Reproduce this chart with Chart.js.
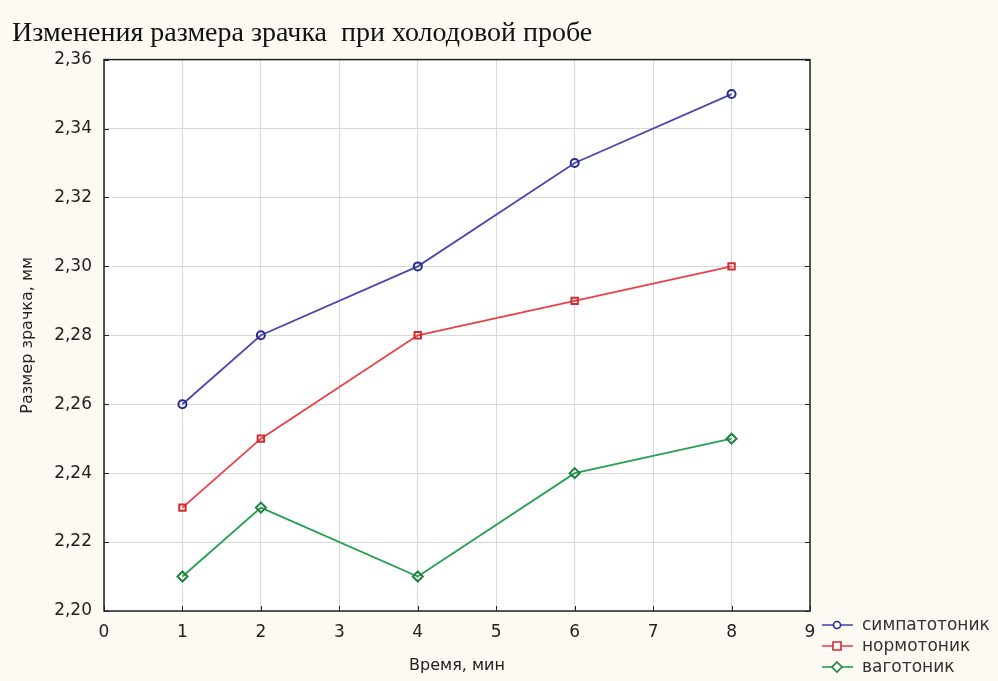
<!DOCTYPE html>
<html>
<head>
<meta charset="utf-8">
<script src="https://cdn.jsdelivr.net/npm/chart.js@4/dist/chart.umd.min.js"></script>
<style>
    html, body { margin: 0; padding: 0; background: #fcfaf3; }
    #box { width: 998px; height: 681px; }
</style>
</head>
<body>
<div id="box"><canvas id="myChart" width="998" height="681"></canvas></div>
<script>
// время, мин
const times = [1, 2, 4, 6, 8];
// размер зрачка, мм
const simpato = [2.26, 2.28, 2.30, 2.33, 2.35];
const normo = [2.23, 2.25, 2.28, 2.29, 2.30];
const vago = [2.21, 2.23, 2.21, 2.24, 2.25];

const xTicks = [0, 1, 2, 3, 4, 5, 6, 7, 8, 9];
const yTicks = [2.20, 2.22, 2.24, 2.26, 2.28, 2.30, 2.32, 2.34, 2.36];

const labels = ['симпатотоник', 'нормотоник', 'ваготоник'];

const font = 'DejaVu Sans';

function points(arr) {
    return times.map((t, i) => ({x: t, y: arr[i]}));
}

function dataset(label, arr, line, mark, style, r) {
    return {
        label: label,
        data: points(arr),
        borderColor: line,
        borderWidth: 1.8,
        pointStyle: style,
        pointRadius: r,
        pointBorderColor: mark,
        pointBackgroundColor: 'rgba(255,255,255,0)',
        pointBorderWidth: 2,
        tension: 0,
        fill: false
    };
}

// фон, рамка, засечки и легенда
const decor = {
    id: 'decor',
    beforeDraw(chart) {
        const c = chart.ctx;
        const a = chart.chartArea;
        c.save();
        c.fillStyle = '#fcfaf3';
        c.fillRect(0, 0, chart.width, chart.height);
        c.fillStyle = '#ffffff';
        c.fillRect(a.left, a.top, a.right - a.left, a.bottom - a.top);
        c.restore();
    },
    afterDatasetsDraw(chart) {
        const c = chart.ctx;
        const a = chart.chartArea;
        const xs = chart.scales.x, ys = chart.scales.y;
        c.save();
        c.strokeStyle = '#222';
        c.lineWidth = 1.5;
        c.strokeRect(a.left, a.top, a.right - a.left, a.bottom - a.top);
        c.lineWidth = 1;
        c.beginPath();
        yTicks.forEach(v => {
            const y = Math.round(ys.getPixelForValue(v)) + 0.5;
            c.moveTo(a.left, y); c.lineTo(a.left + 5, y);
            c.moveTo(a.right, y); c.lineTo(a.right - 5, y);
        });
        xTicks.forEach(v => {
            const x = Math.round(xs.getPixelForValue(v)) + 0.5;
            c.moveTo(x, a.bottom); c.lineTo(x, a.bottom - 5);
        });
        c.stroke();

        // легенда
        const rows = [625, 646, 667];
        chart.data.datasets.forEach((ds, i) => {
            const y = rows[i];
            c.strokeStyle = ds.borderColor;
            c.lineWidth = 1.6;
            c.beginPath();
            c.moveTo(822, y); c.lineTo(853, y);
            c.stroke();
            c.fillStyle = '#fff';
            c.strokeStyle = ds.pointBorderColor;
            c.beginPath();
            if (ds.pointStyle === 'circle') {
                c.arc(837, y, 3.5, 0, Math.PI * 2);
            } else if (ds.pointStyle === 'rect') {
                c.rect(833, y - 4, 8, 8);
            } else {
                c.moveTo(837, y - 5); c.lineTo(842, y); c.lineTo(837, y + 5); c.lineTo(832, y); c.closePath();
            }
            c.fill();
            c.stroke();
            c.fillStyle = '#333';
            c.font = '17px "' + font + '"';
            c.textBaseline = 'middle';
            c.fillText(ds.label, 862, y + 1);
        });
        c.restore();
    }
};

var ctx = document.getElementById('myChart').getContext('2d');

var config = {
    type: 'line',
    data: {
        datasets: [
            dataset(labels[0], simpato, '#4a4aae', '#2a2a90', 'circle', 4),
            dataset(labels[1], normo, '#ec4048', '#d42a30', 'rect', 4.5),
            dataset(labels[2], vago, '#27a050', '#1f8040', 'rectRot', 5)
        ]
    },
    options: {
        responsive: false,
        animation: false,
        layout: {padding: {left: 12, right: 188, top: 0, bottom: 0}},
        plugins: {
            legend: {display: false},
            tooltip: {enabled: false},
            title: {
                display: true,
                text: 'Изменения размера зрачка  при холодовой пробе',
                align: 'start',
                color: '#111',
                font: {family: 'Liberation Serif', size: 28, weight: 'normal'},
                padding: {top: 17, bottom: 9}
            }
        },
        scales: {
            x: {
                type: 'linear',
                min: 0,
                max: 9,
                afterBuildTicks: s => { s.ticks = xTicks.map(v => ({value: v})); },
                afterFit: s => { s.height = 70; },
                grid: {color: '#d9d9d9', lineWidth: 1, drawTicks: false},
                border: {display: false},
                ticks: {color: '#222', padding: 11, font: {family: font, size: 17}},
                title: {
                    display: true,
                    text: 'Время, мин',
                    color: '#222',
                    font: {family: font, size: 16},
                    padding: {top: 6, bottom: 6}
                }
            },
            y: {
                min: 2.20,
                max: 2.36,
                afterBuildTicks: s => { s.ticks = yTicks.map(v => ({value: v})); },
                afterFit: s => { s.width = 92; },
                grid: {color: '#d9d9d9', lineWidth: 1, drawTicks: false},
                border: {display: false},
                ticks: {
                    color: '#222',
                    padding: 12,
                    font: {family: font, size: 17},
                    callback: v => v.toFixed(2).replace('.', ',')
                },
                title: {
                    display: true,
                    text: 'Размер зрачка, мм',
                    color: '#222',
                    font: {family: font, size: 16},
                    padding: {top: 6, bottom: 0}
                }
            }
        }
    },
    plugins: [decor]
};

var myChart = new Chart(ctx, config);
</script>
</body>
</html>
